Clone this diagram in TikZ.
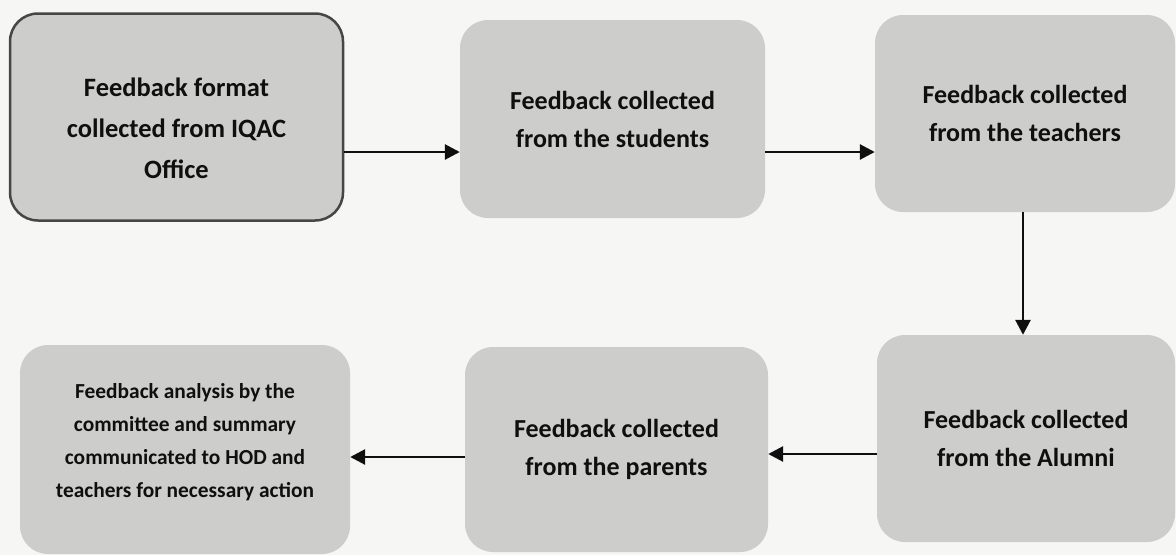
\documentclass[tikz,border=0pt]{standalone}
\usepackage{fontspec}
\setmainfont{Carlito}
\usetikzlibrary{arrows.meta}
\definecolor{bg}{RGB}{246,246,244}
\definecolor{boxfill}{RGB}{205,205,203}
\definecolor{boxedge}{RGB}{70,70,70}
\definecolor{ink}{RGB}{15,15,15}
\begin{document}
\begin{tikzpicture}[x=1pt,y=-1pt,
  box/.style={rounded corners=28pt, fill=boxfill, text=ink, align=center, inner sep=0pt,
    font=\bfseries\fontsize{26}{38}\selectfont},
  firstbox/.style={box, draw=boxedge, line width=2.5pt, font=\bfseries\fontsize{26.5}{41}\selectfont},
  smallbox/.style={box, font=\bfseries\fontsize{21.4}{33}\selectfont},
  arr/.style={draw=ink, line width=2.8pt, -{Triangle[length=15pt,width=15pt]}}]
\fill[bg] (0,0) rectangle (1176,555);
\useasboundingbox (0,0) rectangle (1176,555);

\node[firstbox, minimum width=333pt, minimum height=207pt] (b1) at (176.5,117)
  {\raisebox{-12pt}[\height][\depth]{\begin{tabular}{@{}c@{}}Feedback format\\collected from IQAC\\Office\end{tabular}}};
\node[box, minimum width=305pt, minimum height=198pt] (b2) at (612.5,119)
  {Feedback collected\\from the students};
\node[box, minimum width=300pt, minimum height=197pt] (b3) at (1025,113.5)
  {Feedback collected\\from the teachers};
\node[box, minimum width=298pt, minimum height=207pt] (b4) at (1026,438.5)
  {Feedback collected\\from the Alumni};
\node[box, minimum width=303pt, minimum height=205pt] (b5) at (616.5,449.5)
  {Feedback collected\\from the parents};
\node[smallbox, minimum width=330pt, minimum height=209pt] (b6) at (185,449.5)
  {\raisebox{8pt}[\height][\depth]{\begin{tabular}{@{}c@{}}Feedback analysis by the\\committee and summary\\communicated to HOD and\\teachers for necessary action\end{tabular}}};

\draw[arr] (b1.east |- 0,152) -- (b2.west |- 0,152);
\draw[arr] (b2.east |- 0,152) -- (b3.west |- 0,152);
\draw[arr] (b3.south -| 1023,0) -- (b4.north -| 1023,0);
\draw[arr] (b4.west |- 0,454) -- (b5.east |- 0,454);
\draw[arr] (b5.west |- 0,457) -- (b6.east |- 0,457);
\end{tikzpicture}
\end{document}
